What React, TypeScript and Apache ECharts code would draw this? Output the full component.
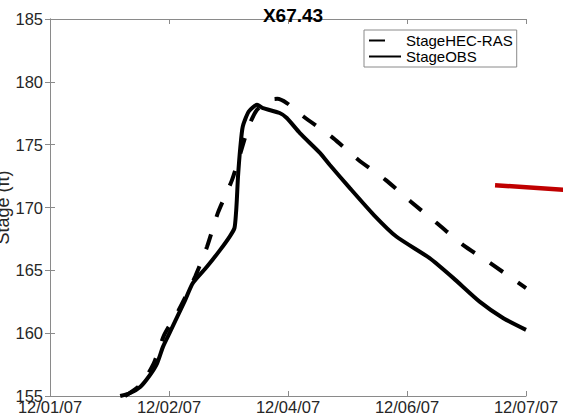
import React, { useEffect, useRef } from "react";
import * as echarts from "echarts";

const titleText = "X67.43";
const yAxisName = "Stage (ft)";
const xTickLabels = ["12/01/07", "12/02/07", "12/04/07", "12/06/07", "12/07/07"];
const yMin = 155;
const yMax = 185;
const yStep = 5;

// x positions are expressed in tick-spacing units (0 = first tick, 4 = last tick)
const obsX = [0.59, 0.67, 0.76, 0.84, 0.90, 0.95, 1.01, 1.07, 1.13, 1.20, 1.32, 1.43, 1.51, 1.55, 1.563, 1.57, 1.58, 1.60, 1.62, 1.67, 1.74, 1.79, 1.93, 1.99, 2.10, 2.27, 2.35, 2.52, 2.72, 2.91, 3.19, 3.39, 3.61, 3.81, 4.00];
const obsY = [155.0, 155.22, 155.74, 156.67, 157.60, 158.93, 160.12, 161.32, 162.51, 163.98, 165.30, 166.63, 167.69, 168.36, 169.55, 170.61, 172.47, 174.86, 176.45, 177.64, 178.18, 177.91, 177.52, 177.12, 175.92, 174.33, 173.40, 171.54, 169.42, 167.69, 165.97, 164.38, 162.51, 161.19, 160.26];

const hecX = [0.63, 0.76, 0.87, 0.96, 1.08, 1.22, 1.32, 1.41, 1.53, 1.60, 1.67, 1.74, 1.85, 1.91, 1.99, 2.13, 2.38, 2.59, 2.82, 3.03, 3.25, 3.47, 3.70, 3.94, 4.00];
const hecY = [155.0, 155.9, 157.55, 159.86, 161.8, 164.50, 166.89, 169.55, 172.20, 174.33, 176.45, 177.78, 178.57, 178.65, 178.31, 177.24, 175.52, 173.80, 172.20, 170.48, 168.76, 167.03, 165.57, 163.98, 163.58];

const redX = [3.74, 4.5];
const redY = [171.78, 171.29];

const FONT = "'Liberation Sans', Arial, Helvetica, sans-serif";
const AXIS_COLOR = "#8a8a8a";
const TEXT_COLOR = "#262626";

const zip = (xs: number[], ys: number[]) => xs.map((x, i) => [x, ys[i]]);

export default function App() {
  const ref = useRef<HTMLDivElement>(null);

  useEffect(() => {
    if (!ref.current) return;
    const chart = echarts.init(ref.current, undefined, { renderer: "svg" });
    const axisBase = {
      type: "value" as const,
      axisLine: { show: true, lineStyle: { color: AXIS_COLOR, width: 1 } },
      axisTick: { show: true, inside: true, length: 5, lineStyle: { color: AXIS_COLOR } },
      splitLine: { show: false },
    };
    chart.setOption({
      animation: false,
      backgroundColor: "#ffffff",
      title: {
        text: titleText,
        left: 288,
        textAlign: "center",
        top: 1,
        textStyle: { fontFamily: FONT, fontSize: 19, fontWeight: "bold", color: "#000" },
      },
      grid: { left: 50, right: 37, top: 19, bottom: 22, containLabel: false, outerBoundsMode: "none" },
      legend: {
        data: ["StageHEC-RAS", "StageOBS"],
        orient: "vertical",
        left: 364,
        top: 30,
        itemWidth: 32,
        itemHeight: 14,
        itemGap: 1,
        padding: [3, 4, 3, 4],
        borderColor: "#8a8a8a",
        borderWidth: 1,
        backgroundColor: "#fff",
        itemStyle: { opacity: 0, borderWidth: 0 },
        textStyle: { fontFamily: FONT, fontSize: 15, color: "#000" },
      },
      xAxis: [
        {
          ...axisBase,
          position: "bottom",
          min: 0,
          max: xTickLabels.length - 1,
          interval: 1,
          axisLabel: {
            show: true,
            margin: 2,
            fontFamily: FONT,
            fontSize: 16.5,
            color: TEXT_COLOR,
            formatter: (v: number) => xTickLabels[Math.round(v)] ?? "",
          },
        },
        {
          ...axisBase,
          position: "top",
          min: 0,
          max: xTickLabels.length - 1,
          interval: 1,
          axisLabel: { show: false },
        },
      ],
      yAxis: [
        {
          ...axisBase,
          position: "left",
          min: yMin,
          max: yMax,
          interval: yStep,
          name: yAxisName,
          nameLocation: "middle",
          nameGap: 38,
          nameMoveOverlap: false,
          nameTextStyle: { fontFamily: FONT, fontSize: 18, color: TEXT_COLOR },
          axisLabel: { show: true, margin: 7, fontFamily: FONT, fontSize: 16.5, color: TEXT_COLOR },
        },
        {
          ...axisBase,
          position: "right",
          min: yMin,
          max: yMax,
          interval: yStep,
          axisLabel: { show: false },
        },
      ],
      series: [
        {
          name: "StageHEC-RAS",
          type: "line",
          data: zip(hecX, hecY),
          showSymbol: false,
          symbol: "none",
          smooth: 0.25,
          lineStyle: { color: "#000", width: 4, type: [16, 18], cap: "butt" },
          itemStyle: { color: "#000" },
          z: 3,
        },
        {
          name: "StageOBS",
          type: "line",
          data: zip(obsX, obsY),
          showSymbol: false,
          symbol: "none",
          smooth: 0.2,
          lineStyle: { color: "#000", width: 4 },
          itemStyle: { color: "#000" },
          z: 3,
        },
      ],
    });

    // red marker segment extends beyond the axes box: place it via the grid's own scales
    const redPts = zip(redX, redY).map(
      (p) => chart.convertToPixel({ gridIndex: 0 }, p) as number[]
    );
    chart.setOption({
      graphic: [
        {
          type: "polyline",
          shape: { points: redPts },
          style: { stroke: "#c00000", lineWidth: 4.5, fill: "none" },
          z: 10,
        },
      ],
    });

    return () => chart.dispose();
  }, []);

  return (
    <div
      ref={ref}
      style={{ position: "fixed", left: 0, top: 0, width: 563, height: 418 }}
    />
  );
}
